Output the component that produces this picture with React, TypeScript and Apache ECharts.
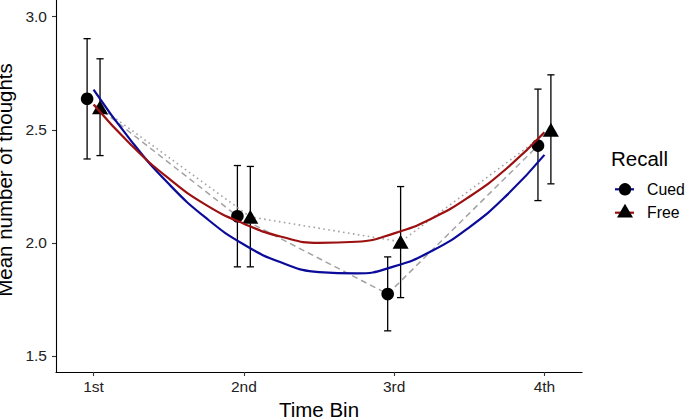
import React, { useEffect, useRef } from "react";
import * as echarts from "echarts";

const categories = ["1st", "2nd", "3rd", "4th"];
const yTicks = [1.5, 2.0, 2.5, 3.0];

const cuedMean = [2.637, 2.118, 1.774, 2.43];
const cuedLower = [2.371, 1.894, 1.611, 2.187];
const cuedUpper = [2.903, 2.342, 1.938, 2.68];

const freeMean = [2.6, 2.115, 2.005, 2.5];
const freeLower = [2.386, 1.894, 1.758, 2.261];
const freeUpper = [2.814, 2.338, 2.249, 2.743];

// fitted quadratic curves, every quarter bin
const curveX = [1, 1.25, 1.5, 1.75, 2, 2.25, 2.5, 2.75, 3, 3.25, 3.5, 3.75, 4];
const cuedCurve = [2.678, 2.451, 2.261, 2.109, 1.993, 1.913, 1.871, 1.865, 1.896, 1.964, 2.069, 2.211, 2.389];
const freeCurve = [2.612, 2.433, 2.285, 2.167, 2.085, 2.027, 2.0, 2.005, 2.042, 2.108, 2.204, 2.33, 2.489];

const FONT = "Liberation Sans, Arial, Helvetica, sans-serif";
const BLUE = "#0b0b99";
const RED = "#9b1010";
const GREY = "#a3a3a3";
const DODGE = 0.043;

function errorBarSeries(lower: number[], upper: number[], offset: number) {
  return {
    type: "custom",
    z: 1,
    silent: true,
    encode: { x: 0, y: [1, 2] },
    data: lower.map((lo, i) => [i + 1 + offset, lo, upper[i]]),
    renderItem: (params: any, api: any) => {
      const x = api.value(0);
      const pLo = api.coord([x, api.value(1)]);
      const pHi = api.coord([x, api.value(2)]);
      const w = 3.6;
      const style = { stroke: "#000", lineWidth: 1.3 };
      return {
        type: "group",
        children: [
          { type: "line", shape: { x1: pLo[0], y1: pLo[1], x2: pHi[0], y2: pHi[1] }, style },
          { type: "line", shape: { x1: pLo[0] - w, y1: pLo[1], x2: pLo[0] + w, y2: pLo[1] }, style },
          { type: "line", shape: { x1: pHi[0] - w, y1: pHi[1], x2: pHi[0] + w, y2: pHi[1] }, style },
        ],
      };
    },
  };
}

export default function App() {
  const ref = useRef<HTMLDivElement>(null);
  useEffect(() => {
    if (!ref.current) return;
    const chart = echarts.init(ref.current, undefined, { renderer: "svg" });
    const option: any = {
      animation: false,
      backgroundColor: "#fff",
      textStyle: { fontFamily: FONT },
      grid: { left: 56, right: 103, top: 0, bottom: 45, containLabel: false, outerBoundsMode: "none" },
      xAxis: {
        type: "value",
        min: 0.75,
        max: 4.25,
        name: "Time Bin",
        nameLocation: "middle",
        nameGap: 21,
        nameTextStyle: { fontSize: 20.5, color: "#000", fontFamily: FONT },
        axisLine: { show: true, onZero: false, lineStyle: { color: "#000", width: 1.1 } },
        axisTick: { show: true, length: 4, customValues: [1, 2, 3, 4], lineStyle: { color: "#333", width: 1.1 } },
        axisLabel: {
          customValues: [1, 2, 3, 4],
          formatter: (v: number) => categories[Math.round(v) - 1] ?? "",
          fontSize: 15.5,
          color: "#222",
          margin: 6,
          fontFamily: FONT,
        },
        splitLine: { show: false },
      },
      yAxis: {
        type: "value",
        min: 1.429,
        max: 3.074,
        name: "Mean number of thoughts",
        nameLocation: "middle",
        nameGap: 37,
        nameTextStyle: { fontSize: 20.5, color: "#000", fontFamily: FONT, padding: [0, 0, 0, 12] },
        axisLine: { show: true, onZero: false, lineStyle: { color: "#000", width: 1.1 } },
        axisTick: { show: true, length: 4, customValues: yTicks, lineStyle: { color: "#333", width: 1.1 } },
        axisLabel: {
          customValues: yTicks,
          formatter: (v: number) => v.toFixed(1),
          fontSize: 15.5,
          color: "#222",
          margin: 9,
          fontFamily: FONT,
        },
        splitLine: { show: false },
      },
      series: [
        errorBarSeries(cuedLower, cuedUpper, -DODGE),
        errorBarSeries(freeLower, freeUpper, DODGE),
        {
          type: "line",
          z: 2,
          silent: true,
          showSymbol: false,
          data: cuedMean.map((m, i) => [i + 1 - DODGE, m]),
          lineStyle: { color: GREY, width: 1.5, type: [6, 4] },
        },
        {
          type: "line",
          z: 2,
          silent: true,
          showSymbol: false,
          data: freeMean.map((m, i) => [i + 1 + DODGE, m]),
          lineStyle: { color: GREY, width: 1.6, type: [1.6, 3.4] },
        },
        {
          type: "scatter",
          z: 3,
          silent: true,
          symbol: "circle",
          symbolSize: 12.6,
          itemStyle: { color: "#000", opacity: 1 },
          data: cuedMean.map((m, i) => [i + 1 - DODGE, m]),
        },
        {
          type: "scatter",
          z: 3,
          silent: true,
          symbol: "triangle",
          symbolSize: [16, 14],
          itemStyle: { color: "#000", opacity: 1 },
          data: freeMean.map((m, i) => [i + 1 + DODGE, m]),
        },
        {
          type: "line",
          z: 4,
          silent: true,
          showSymbol: false,
          smooth: true,
          data: curveX.map((x, i) => [x, cuedCurve[i]]),
          lineStyle: { color: BLUE, width: 2.2 },
        },
        {
          type: "line",
          z: 4,
          silent: true,
          showSymbol: false,
          smooth: true,
          data: curveX.map((x, i) => [x, freeCurve[i]]),
          lineStyle: { color: RED, width: 2.2 },
        },
      ],
      graphic: [
        {
          type: "text",
          x: 611,
          y: 158,
          style: { text: "Recall", fontSize: 20.5, fill: "#000", fontFamily: FONT, verticalAlign: "middle" },
        },
        {
          type: "line",
          shape: { x1: 615, y1: 189.3, x2: 634, y2: 189.3 },
          style: { stroke: BLUE, lineWidth: 2.2 },
        },
        { type: "circle", shape: { cx: 625, cy: 189.3, r: 6.2 }, style: { fill: "#000" } },
        {
          type: "text",
          x: 647,
          y: 189.5,
          style: { text: "Cued", fontSize: 15.8, fill: "#000", fontFamily: FONT, verticalAlign: "middle" },
        },
        {
          type: "line",
          shape: { x1: 615, y1: 212.7, x2: 634, y2: 212.7 },
          style: { stroke: RED, lineWidth: 2.2 },
        },
        {
          type: "polygon",
          shape: { points: [[617, 217.5], [633, 217.5], [625, 203.8]] },
          style: { fill: "#000" },
        },
        {
          type: "text",
          x: 647,
          y: 212.8,
          style: { text: "Free", fontSize: 15.8, fill: "#000", fontFamily: FONT, verticalAlign: "middle" },
        },
      ],
    };
    chart.setOption(option);
    return () => chart.dispose();
  }, []);
  return (
    <div
      ref={ref}
      style={{ position: "absolute", left: 0, top: 0, width: 685, height: 417, background: "#fff" }}
    />
  );
}
